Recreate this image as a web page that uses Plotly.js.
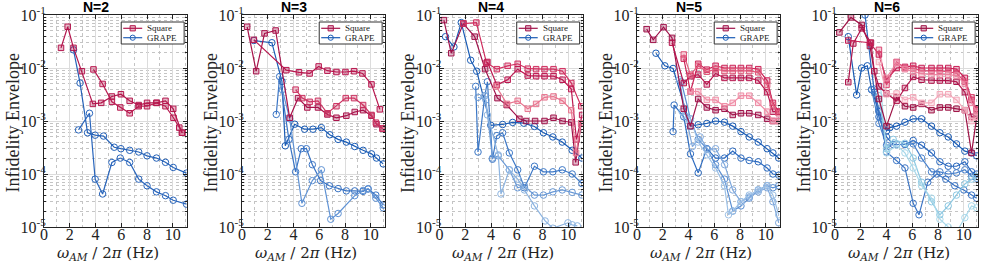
<!DOCTYPE html>
<html><head><meta charset="utf-8">
<script src="https://cdn.plot.ly/plotly-3.0.1.min.js"></script>
<style>html,body{margin:0;padding:0;background:#fff}</style>
</head><body>
<div id="chart" style="width:981px;height:264px"></div>
<script>
// ---------------- DATA ----------------
const panelTitles = ['N=2', 'N=3', 'N=4', 'N=5', 'N=6'];
const xTickVals = [0, 2, 4, 6, 8, 10];
const yTickVals = [1e-5, 1e-4, 1e-3, 1e-2, 1e-1];
const yTickText = ['10<sup>-5</sup>', '10<sup>-4</sup>', '10<sup>-3</sup>', '10<sup>-2</sup>', '10<sup>-1</sup>'];
const legendLabels = ['Square', 'GRAPE'];

// N=2
const n2_sq1_x = [1.32, 1.84, 2.29, 2.94, 3.79, 4.44, 5.27, 5.97, 6.65, 7.35, 8.0, 8.73, 9.43, 10.03, 10.7];
const n2_sq1_y = [0.024, 0.060, 0.024, 0.0087, 0.0021, 0.0022, 0.0029, 0.0032, 0.0024, 0.0020, 0.0022, 0.0022, 0.0024, 0.0017, 0.0006];
const n2_sq2_x = [3.84, 4.55, 5.27, 5.92, 6.65, 7.35, 8.0, 8.73, 9.43, 10.05, 10.5, 10.75];
const n2_sq2_y = [0.0094, 0.0050, 0.0023, 0.0018, 0.0014, 0.0019, 0.0019, 0.0022, 0.0019, 0.00115, 0.00075, 0.0006];
const n2_gr1_x = [2.29, 2.8, 3.38, 3.97, 4.62, 5.45, 5.97, 6.65, 7.35, 8.0, 8.73, 9.43, 10.03, 11.06];
const n2_gr1_y = [0.022, 0.0052, 0.0006, 0.00054, 0.00052, 0.00032, 0.0003, 0.00028, 0.00026, 0.00022, 0.0002, 0.000166, 0.000133, 0.000104];
const n2_gr2_x = [2.68, 3.53, 3.97, 4.55, 5.27, 5.92, 6.65, 7.35, 8.0, 8.73, 9.43, 10.03, 11.06];
const n2_gr2_y = [0.00068, 0.0014, 0.00008, 0.000042, 0.000165, 0.0002, 0.000165, 0.00008, 0.00006, 0.000046, 0.000039, 0.000032, 0.000027];

// N=3
const n3_sq1_x = [0.4, 1.1, 1.75, 2.61, 3.7, 4.35, 5.07, 5.9, 6.63, 7.33, 8.1, 8.75, 9.4, 10.05, 10.44, 10.91];
const n3_sq1_y = [0.06, 0.0087, 0.045, 0.051, 0.00115, 0.0027, 0.0018, 0.0018, 0.00133, 0.00115, 0.00126, 0.00148, 0.0016, 0.00126, 0.00087, 0.00072];
const n3_sq2_x = [0.92, 3.44, 4.42, 5.25, 5.95, 6.63, 7.33, 8.03, 8.7, 9.35, 10.05, 10.7];
const n3_sq2_y = [0.034, 0.0091, 0.0083, 0.0079, 0.0107, 0.0089, 0.0084, 0.0084, 0.0087, 0.0079, 0.0049, 0.00166];
const n3_sq3_x = [4.16, 4.68, 5.25, 5.9, 6.63, 7.33, 8.05, 8.7, 9.4, 10.05, 10.39, 10.91];
const n3_sq3_y = [0.0039, 0.0027, 0.0023, 0.0024, 0.0014, 0.0019, 0.0027, 0.0027, 0.002, 0.0013, 0.00093, 0.00072];
const n3_gr1_x = [0.92, 2.32, 3.1, 3.36, 4.09, 4.86, 5.51, 6.16, 6.81, 7.46, 8.1, 8.75, 9.4, 10.05, 10.44, 10.96];
const n3_gr1_y = [0.033, 0.030, 0.0056, 0.00034, 0.00087, 0.0007, 0.0007, 0.00075, 0.00055, 0.00045, 0.0004, 0.00033, 0.00028, 0.00024, 0.0002, 0.000155];
const n3_gr2_x = [2.66, 2.92, 3.64, 4.16, 4.6, 5.0, 5.46, 6.1, 6.78, 7.46, 8.1, 8.75, 9.4, 9.79, 10.39, 10.96];
const n3_gr2_y = [0.00133, 0.0069, 0.00045, 0.00011, 0.0003, 0.0003, 0.00015, 0.000075, 0.00006, 0.000053, 0.000048, 0.000048, 0.000047, 0.000052, 0.00004, 0.000026];
const n3_gr3_x = [3.13, 3.7, 4.65, 5.46, 6.16, 6.89, 7.46, 8.75, 9.4, 9.79, 10.39, 10.96];
const n3_gr3_y = [0.0039, 0.0011, 0.000028, 0.000075, 0.00012, 0.000014, 0.000018, 0.000039, 0.000049, 0.000053, 0.000035, 0.000023];

// N=4
const n4_sq1_x = [0.34, 0.91, 1.85, 2.73, 3.54, 4.5, 5.23, 6.2, 6.72, 7.42, 8.15, 8.85, 9.55, 10.23, 10.57, 11.0];
const n4_sq1_y = [0.08, 0.019, 0.069, 0.039, 0.0095, 0.0027, 0.0020, 0.0011, 0.0010, 0.0010, 0.0010, 0.00115, 0.0010, 0.00094, 0.000166, 0.0009];
const n4_sq2_x = [1.85, 2.86, 3.65, 4.45, 5.29, 6.07, 6.85, 7.5, 8.15, 8.85, 9.55, 10.23, 11.0];
const n4_sq2_y = [0.069, 0.072, 0.0125, 0.0095, 0.011, 0.012, 0.0097, 0.0095, 0.0095, 0.0095, 0.0087, 0.0052, 0.0019];
const n4_sq3_x = [3.72, 4.45, 5.29, 6.07, 6.85, 7.5, 8.15, 8.85, 9.55, 10.23, 10.63, 11.07];
const n4_sq3_y = [0.013, 0.0048, 0.006, 0.0095, 0.0072, 0.007, 0.007, 0.007, 0.006, 0.004, 0.00045, 0.0013];
const n4_sq4_x = [4.4, 5.23, 6.07, 6.85, 7.5, 8.15, 8.85, 9.55, 10.23, 10.6, 11.0];
const n4_sq4_y = [0.0045, 0.0021, 0.0024, 0.0017, 0.0021, 0.0028, 0.0029, 0.0024, 0.0016, 0.00025, 0.0009];
const n4_gr1_x = [0.47, 1.12, 1.69, 2.42, 2.89, 3.98, 4.9, 5.68, 6.54, 7.37, 8.07, 8.8, 9.53, 10.3, 11.05];
const n4_gr1_y = [0.039, 0.025, 0.072, 0.014, 0.0087, 0.00083, 0.00086, 0.00094, 0.00091, 0.00079, 0.0006, 0.0005, 0.0004, 0.00028, 0.0002];
const n4_gr2_x = [2.81, 2.99, 3.52, 3.72, 4.11, 4.45, 4.9, 5.42, 6.07, 6.59, 7.37, 8.07, 8.8, 9.53, 10.3, 11.05];
const n4_gr2_y = [0.0045, 0.00026, 0.003, 0.0055, 0.00019, 0.00053, 0.0006, 0.00025, 0.00012, 0.000055, 0.00014, 0.00011, 0.00011, 0.00012, 0.0001, 0.000066];
const n4_gr3_x = [2.99, 3.6, 4.11, 4.56, 5.42, 6.07, 6.59, 7.37, 8.07, 8.8, 9.53, 10.3, 11.05];
const n4_gr3_y = [0.0028, 0.0025, 0.0002, 0.00022, 0.00012, 0.000055, 0.00006, 0.00004, 0.00004, 0.000046, 0.00005, 0.000045, 0.00004];
const n4_gr4_x = [3.52, 3.72, 4.56, 4.77, 5.42, 6.07, 6.59, 7.37, 8.2, 8.8, 9.97, 10.3, 10.7];
const n4_gr4_y = [0.003, 0.0013, 0.00023, 0.000042, 0.00012, 0.00008, 0.00005, 0.000025, 0.000013, 0.0000095, 0.000012, 0.000011, 0.0000105];

// N=5
const n5_sq1_x = [0.75, 1.26, 2.06, 2.72, 3.63, 4.15, 4.75, 5.42, 6.1, 6.79, 7.43, 8.07, 8.71, 9.41, 10.1, 10.55, 11.0];
const n5_sq1_y = [0.054, 0.034, 0.059, 0.037, 0.0017, 0.0008, 0.0026, 0.0018, 0.0016, 0.0017, 0.0013, 0.0014, 0.0014, 0.0013, 0.0011, 0.001, 0.001];
const n5_sq2_x = [2.72, 3.63, 4.15, 4.75, 5.42, 6.1, 6.79, 7.43, 8.07, 8.71, 9.41, 10.1, 10.55, 11.0];
const n5_sq2_y = [0.030, 0.0052, 0.007, 0.0075, 0.0049, 0.0079, 0.0065, 0.0065, 0.0065, 0.0065, 0.0058, 0.0035, 0.0015, 0.0015];
const n5_sq3_x = [3.63, 4.15, 4.75, 5.42, 6.1, 6.79, 7.43, 8.07, 8.71, 9.41, 10.1, 10.55, 11.0];
const n5_sq3_y = [0.015, 0.0036, 0.012, 0.0093, 0.011, 0.010, 0.010, 0.010, 0.010, 0.0095, 0.0058, 0.0022, 0.0015];
const n5_sq4_x = [3.63, 4.15, 4.75, 5.42, 6.1, 6.79, 7.43, 8.07, 8.71, 9.41, 10.1, 10.55, 11.0];
const n5_sq4_y = [0.018, 0.0075, 0.011, 0.0085, 0.0095, 0.0088, 0.0088, 0.0088, 0.0088, 0.0083, 0.0048, 0.002, 0.0014];
const n5_sq5_x = [4.15, 4.75, 5.42, 6.1, 6.79, 7.43, 8.07, 8.71, 9.41, 10.1, 10.55, 11.0];
const n5_sq5_y = [0.0036, 0.0036, 0.0025, 0.0025, 0.0019, 0.0022, 0.003, 0.003, 0.0022, 0.0015, 0.001, 0.001];
const n5_gr1_x = [1.47, 2.16, 2.8, 4.15, 4.75, 5.42, 6.1, 6.79, 7.43, 8.07, 8.71, 9.41, 10.1, 10.55, 11.0];
const n5_gr1_y = [0.019, 0.011, 0.0098, 0.0008, 0.00085, 0.0009, 0.001, 0.00095, 0.0008, 0.00063, 0.0005, 0.0004, 0.0003, 0.00025, 0.0002];
const n5_gr2_x = [2.8, 2.88, 3.63, 4.15, 4.75, 5.42, 6.1, 6.79, 7.43, 8.07, 8.71, 9.41, 10.1, 10.55, 11.0];
const n5_gr2_y = [0.00063, 0.002, 0.0012, 0.00024, 0.000105, 0.0003, 0.0002, 0.0002, 0.00027, 0.0002, 0.00018, 0.00017, 0.00013, 0.0001, 0.000095];
const n5_gr3_x = [3.44, 4.15, 4.75, 5.42, 6.1, 6.79, 7.43, 8.07, 8.71, 9.41, 10.1, 10.55, 11.0];
const n5_gr3_y = [0.0055, 0.0011, 0.00045, 0.0003, 0.00015, 0.00008, 0.00002, 0.000025, 0.000035, 0.00005, 0.00006, 0.000055, 0.00006];
const n5_gr4_x = [3.3, 3.8, 4.3, 4.9, 5.5, 6.1, 6.8, 7.43, 8.07, 8.71, 9.41, 10.1, 10.55, 11.0];
const n5_gr4_y = [0.006, 0.0012, 0.00033, 0.0005, 0.00029, 0.0003, 0.00015, 0.00005, 0.00003, 0.000037, 0.000046, 0.000055, 0.00003, 0.000012];
const n5_gr5_x = [3.5, 4.15, 4.75, 5.42, 6.1, 6.79, 7.1, 7.43, 8.07, 8.71, 9.41, 10.1, 10.55, 11.0];
const n5_gr5_y = [0.0015, 0.0011, 0.0004, 0.00023, 0.00013, 0.00006, 0.000017, 0.00002, 0.00003, 0.00004, 0.00005, 0.00006, 0.00004, 0.000017];

// N=6
const n6_sq1_x = [0.34, 1.24, 2.07, 2.71, 3.41, 4.0, 4.78, 5.43, 6.07, 6.72, 7.49, 8.14, 8.79, 9.43, 10.08, 10.6, 11.0];
const n6_sq1_y = [0.047, 0.09, 0.065, 0.026, 0.0026, 0.0008, 0.0028, 0.0019, 0.0018, 0.0021, 0.0016, 0.0018, 0.0018, 0.0017, 0.0016, 0.00025, 0.0012];
const n6_sq2_x = [1.03, 1.42, 2.07, 2.79, 3.05, 3.41, 4.0, 4.78, 5.43, 6.07, 6.72, 7.49, 8.14, 8.79, 9.43, 10.08, 10.6, 11.0];
const n6_sq2_y = [0.0054, 0.029, 0.056, 0.03, 0.0087, 0.0045, 0.0033, 0.0024, 0.0042, 0.0068, 0.006, 0.0058, 0.0058, 0.0058, 0.0055, 0.0035, 0.0012, 0.0012];
const n6_sq3_x = [1.03, 2.71, 3.41, 4.0, 4.78, 5.43, 6.07, 6.72, 7.49, 8.14, 8.79, 9.43, 10.08, 10.6, 11.0];
const n6_sq3_y = [0.033, 0.03, 0.018, 0.006, 0.01, 0.0105, 0.011, 0.010, 0.010, 0.010, 0.010, 0.0095, 0.0065, 0.0025, 0.0017];
const n6_sq4_x = [3.41, 4.0, 4.78, 5.43, 6.07, 6.72, 7.49, 8.14, 8.79, 9.43, 10.08, 10.6, 11.0];
const n6_sq4_y = [0.022, 0.0048, 0.013, 0.01, 0.0098, 0.0088, 0.0088, 0.0088, 0.0085, 0.008, 0.0055, 0.0028, 0.0016];
const n6_sq5_x = [4.0, 4.78, 5.43, 6.07, 6.72, 7.49, 8.14, 8.79, 9.43, 10.08, 10.6, 11.0];
const n6_sq5_y = [0.0065, 0.0125, 0.0095, 0.0085, 0.0078, 0.0075, 0.0075, 0.0075, 0.0072, 0.005, 0.0022, 0.0015];
const n6_sq6_x = [3.41, 4.0, 4.78, 5.43, 6.07, 6.72, 7.49, 8.14, 8.79, 9.43, 10.08, 10.6, 11.0];
const n6_sq6_y = [0.013, 0.0032, 0.0033, 0.0025, 0.0028, 0.0022, 0.0022, 0.0032, 0.0032, 0.0025, 0.0016, 0.001, 0.0012];
const n6_gr1_x = [1.03, 1.68, 2.07, 2.51, 2.84, 3.41, 4.0, 4.26, 4.78, 5.43, 6.07, 6.72, 7.49, 8.14, 8.79, 9.43, 10.08, 10.6, 11.0];
const n6_gr1_y = [0.039, 0.0031, 0.01, 0.011, 0.0039, 0.0015, 0.00065, 0.00075, 0.0008, 0.00095, 0.0011, 0.0011, 0.0008, 0.0006, 0.0005, 0.00037, 0.00027, 0.00025, 0.00022];
const n6_gr2_x = [2.33, 3.05, 3.41, 4.0, 4.52, 5.43, 6.07, 6.72, 7.49, 8.14, 8.79, 9.43, 10.08, 10.6, 11.0];
const n6_gr2_y = [0.1, 0.0035, 0.0012, 0.0005, 0.00036, 0.00036, 0.00043, 0.00035, 0.00025, 0.00017, 0.00014, 0.00014, 0.00017, 0.00011, 0.0001];
const n6_gr3_x = [2.84, 3.41, 4.0, 4.78, 5.43, 6.07, 6.72, 7.49, 8.14, 8.79, 9.43, 10.08, 10.6, 11.0];
const n6_gr3_y = [0.0039, 0.0009, 0.00035, 0.00036, 0.00036, 0.00037, 0.0002, 0.00011, 0.00011, 0.0001, 0.000105, 0.00012, 0.00009, 0.000083];
const n6_gr4_x = [3.05, 3.41, 4.0, 4.78, 5.43, 6.07, 6.52, 7.2, 7.9, 8.6, 9.3, 10.0, 10.6, 11.0];
const n6_gr4_y = [0.004, 0.0016, 0.00026, 0.00018, 0.00013, 0.000028, 0.000017, 0.00007, 0.0001, 0.00008, 0.00006, 0.00005, 0.00004, 0.000035];
const n6_gr5_x = [3.41, 4.0, 4.52, 5.43, 6.07, 6.72, 7.49, 8.14, 8.79, 9.43, 10.08, 10.6, 11.0];
const n6_gr5_y = [0.003, 0.0003, 0.00045, 0.00038, 0.0002, 0.00007, 0.00003, 0.000017, 0.000025, 0.00004, 0.000065, 0.00008, 0.00009];
const n6_gr6_x = [3.54, 4.0, 4.78, 5.43, 6.07, 6.72, 7.49, 8.14, 8.79, 9.43, 10.08, 10.6, 11.0];
const n6_gr6_y = [0.0045, 0.00025, 0.00035, 0.00025, 0.00013, 0.00006, 0.000035, 0.000014, 0.00001, 0.000008, 0.000015, 0.000025, 0.000023];

// ---------------- STYLE / LAYOUT ----------------
const panels = [
  {sq: [[n2_sq1_x, n2_sq1_y], [n2_sq2_x, n2_sq2_y]],
   sqc: ['#B3164D', '#B81A50'],
   gr: [[n2_gr1_x, n2_gr1_y], [n2_gr2_x, n2_gr2_y]],
   grc: ['#2562B8', '#2A66BC']},
  {sq: [[n3_sq1_x, n3_sq1_y], [n3_sq2_x, n3_sq2_y], [n3_sq3_x, n3_sq3_y]],
   sqc: ['#A8124A', '#B8164E', '#CC3462'],
   gr: [[n3_gr1_x, n3_gr1_y], [n3_gr2_x, n3_gr2_y], [n3_gr3_x, n3_gr3_y]],
   grc: ['#1A5CB5', '#3A74C4', '#5F92D4']},
  {sq: [[n4_sq1_x, n4_sq1_y], [n4_sq2_x, n4_sq2_y], [n4_sq3_x, n4_sq3_y], [n4_sq4_x, n4_sq4_y]],
   sqc: ['#A0124A', '#D03060', '#BE1A52', '#E8758F'],
   gr: [[n4_gr1_x, n4_gr1_y], [n4_gr2_x, n4_gr2_y], [n4_gr3_x, n4_gr3_y], [n4_gr4_x, n4_gr4_y]],
   grc: ['#1A5CB5', '#3D78C6', '#6B9AD6', '#8DB4E0']},
  {sq: [[n5_sq1_x, n5_sq1_y], [n5_sq2_x, n5_sq2_y], [n5_sq3_x, n5_sq3_y], [n5_sq4_x, n5_sq4_y], [n5_sq5_x, n5_sq5_y]],
   sqc: ['#A0124A', '#B8164E', '#CC2458', '#E05A7C', '#F08CA5'],
   gr: [[n5_gr1_x, n5_gr1_y], [n5_gr2_x, n5_gr2_y], [n5_gr3_x, n5_gr3_y], [n5_gr4_x, n5_gr4_y], [n5_gr5_x, n5_gr5_y]],
   grc: ['#1A5CB5', '#2E6CC0', '#5A8ED2', '#7FA8DC', '#9CC0E6']},
  {sq: [[n6_sq1_x, n6_sq1_y], [n6_sq2_x, n6_sq2_y], [n6_sq3_x, n6_sq3_y], [n6_sq4_x, n6_sq4_y], [n6_sq5_x, n6_sq5_y], [n6_sq6_x, n6_sq6_y]],
   sqc: ['#9E1245', '#B0154C', '#C81E55', '#DA4570', '#EC84A0', '#F4A8BA'],
   gr: [[n6_gr1_x, n6_gr1_y], [n6_gr2_x, n6_gr2_y], [n6_gr3_x, n6_gr3_y], [n6_gr4_x, n6_gr4_y], [n6_gr5_x, n6_gr5_y], [n6_gr6_x, n6_gr6_y]],
   grc: ['#1A5CB5', '#2A68BE', '#4A82CC', '#3A74C4', '#8CC8E2', '#A8D8EA']}
];

const FW = 981, FH = 264, MT = 15, MB = 37;
const PH = FH - MT - MB;
const lefts = [44, 242, 439.5, 637, 835];
const PWID = 143;
const serif = 'Liberation Serif, Times New Roman, serif';
const mathSerif = 'DejaVu Serif, serif';

function rgba(hex, a) {
  const n = parseInt(hex.slice(1), 16);
  return `rgba(${(n >> 16) & 255},${(n >> 8) & 255},${n & 255},${a})`;
}

const traces = [];
const layout = {
  width: FW, height: FH,
  margin: {l: 0, r: 0, t: MT, b: MB, pad: 0},
  paper_bgcolor: '#fff', plot_bgcolor: '#fff',
  showlegend: false,
  annotations: [], shapes: []
};

panels.forEach((p, i) => {
  const k = i === 0 ? '' : String(i + 1);
  const xa = 'x' + k, ya = 'y' + k;
  p.gr.forEach((s, j) => {
    traces.push({type: 'scatter', mode: 'lines+markers', x: s[0], y: s[1], xaxis: xa, yaxis: ya,
      line: {color: p.grc[j], width: 1.2},
      marker: {symbol: 'circle', size: 6.5, color: 'rgba(255,255,255,0)', line: {color: p.grc[j], width: 1}},
      cliponaxis: true, hoverinfo: 'skip'});
  });
  p.sq.forEach((s, j) => {
    traces.push({type: 'scatter', mode: 'lines+markers', x: s[0], y: s[1], xaxis: xa, yaxis: ya,
      line: {color: p.sqc[j], width: 1.2},
      marker: {symbol: 'square', size: 5.5, color: rgba(p.sqc[j], 0.3), line: {color: p.sqc[j], width: 1}},
      cliponaxis: true, hoverinfo: 'skip'});
  });
  const d0 = lefts[i] / FW, d1 = (lefts[i] + PWID) / FW;
  layout['xaxis' + k] = {
    domain: [d0, d1], anchor: ya, range: [0, 11.1], tickmode: 'array', tickvals: xTickVals,
    ticks: 'inside', ticklen: 4, tickcolor: '#222', showline: true, mirror: 'allticks',
    linecolor: '#222', linewidth: 1, showgrid: true, gridcolor: '#dcdcdc', zeroline: false,
    tickfont: {family: serif, size: 16, color: '#222'}, ticklabelstandoff: -7,
    minor: {tick0: 0, dtick: 1, showgrid: true, gridcolor: '#c4c4c4', griddash: 'dot', ticks: ''},
    fixedrange: true
  };
  layout['yaxis' + k] = {
    domain: [0, 1], anchor: xa, type: 'log', range: [-5, -1], tickmode: 'array',
    tickvals: yTickVals, ticktext: yTickText,
    ticks: 'inside', ticklen: 4, tickcolor: '#222', showline: true, mirror: 'allticks',
    linecolor: '#222', linewidth: 1, showgrid: true, gridcolor: '#dcdcdc', zeroline: false,
    tickfont: {family: serif, size: 16, color: '#222'}, ticklabelstandoff: -6,
    minor: {dtick: 'D1', showgrid: true, gridcolor: '#c4c4c4', griddash: 'dot', ticks: 'inside', ticklen: 2, tickcolor: '#222'},
    fixedrange: true
  };
  const cx = (lefts[i] + PWID / 2);
  // panel title
  layout.annotations.push({xref: 'paper', yref: 'paper', x: (cx - 20) / FW, y: 1 + (MT - 7) / PH,
    xanchor: 'center', yanchor: 'middle', showarrow: false,
    text: '<b>' + panelTitles[i] + '</b>', font: {family: 'Liberation Sans, Arial, sans-serif', size: 14, color: '#000'}});
  // x title
  layout.annotations.push({xref: 'paper', yref: 'paper', x: (cx - 8) / FW, y: -(253 - MT - PH) / PH,
    xanchor: 'center', yanchor: 'middle', showarrow: false,
    text: '<i>ω</i><sub><i>AM</i></sub> / 2<i>π</i> (Hz)', font: {family: mathSerif, size: 15, color: '#222'}});
  // y title
  layout.annotations.push({xref: 'paper', yref: 'paper', x: (lefts[i] - 32) / FW, y: 1 - (123.5 - MT) / PH,
    xanchor: 'center', yanchor: 'middle', showarrow: false, textangle: -90,
    text: 'Infidelity Envelope', font: {family: serif, size: 18, color: '#222'}});
  // legend box (in axis-domain fractions)
  const xd = xa + ' domain', yd = ya + ' domain';
  const bx0 = 0.54, bx1 = 0.98, by1 = 1 - 7 / PH, by0 = 1 - 29 / PH;
  layout.shapes.push({type: 'rect', xref: xd, yref: yd, x0: bx0, x1: bx1, y0: by0, y1: by1,
    line: {color: '#333', width: 1}, fillcolor: '#fff', layer: 'above'});
  const rows = [1 - 13.3 / PH, 1 - 22.7 / PH];
  const cols = [p.sqc[0], p.grc[0]];
  const lx0 = bx0 + 2 / PWID, lx1 = bx0 + 21 / PWID, mx = (lx0 + lx1) / 2;
  rows.forEach((ry, r) => {
    layout.shapes.push({type: 'line', xref: xd, yref: yd, x0: lx0, x1: lx1, y0: ry, y1: ry,
      line: {color: cols[r], width: 1.2}, layer: 'above'});
    const hx = 2.6 / PWID, hy = 2.6 / PH;
    layout.shapes.push({type: r === 0 ? 'rect' : 'circle', xref: xd, yref: yd,
      x0: mx - hx, x1: mx + hx, y0: ry - hy, y1: ry + hy,
      line: {color: cols[r], width: 1}, fillcolor: r === 0 ? rgba(cols[r], 0.3) : 'rgba(255,255,255,0)', layer: 'above'});
    layout.annotations.push({xref: xd, yref: yd, x: bx0 + 24 / PWID, y: ry, xanchor: 'left', yanchor: 'middle',
      showarrow: false, text: legendLabels[r], font: {family: serif, size: 9, color: '#222'}});
  });
});

Plotly.newPlot('chart', traces, layout, {displayModeBar: false, staticPlot: true});
</script>
</body></html>
